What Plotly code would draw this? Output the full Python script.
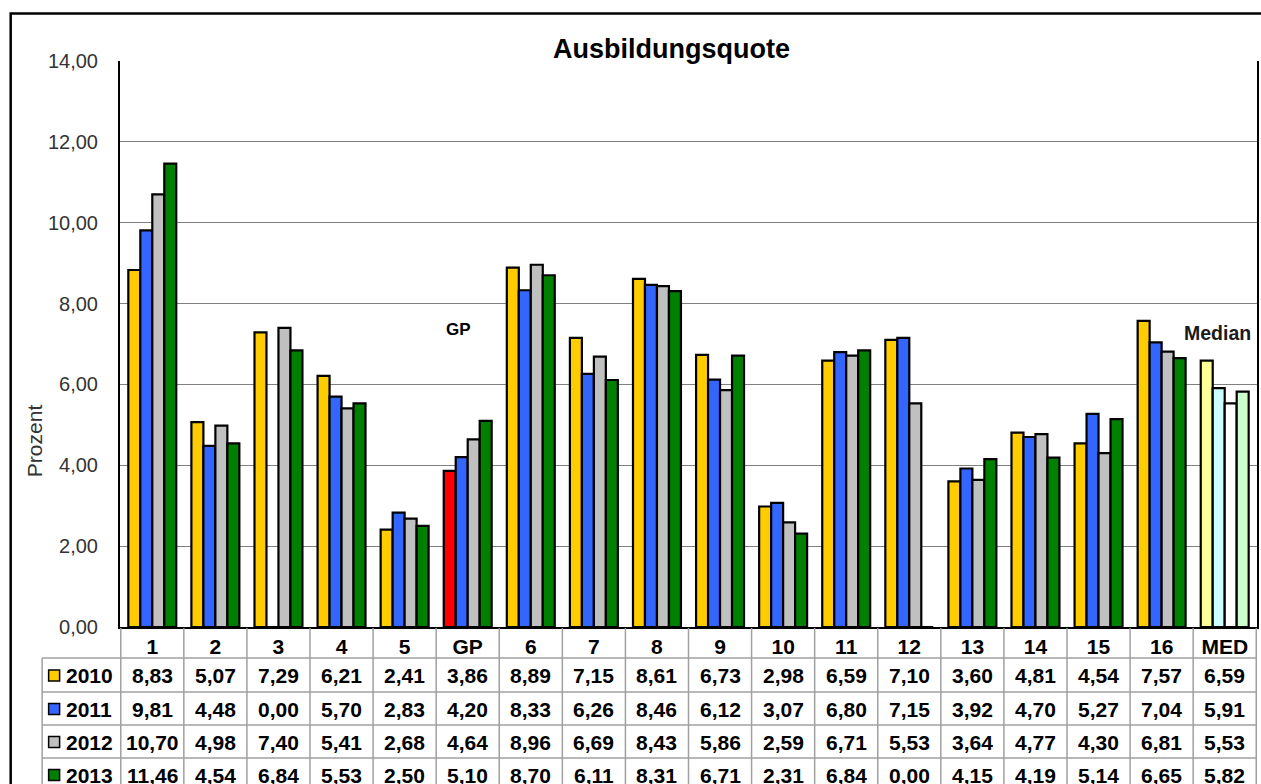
import plotly.graph_objects as go

# --- data -------------------------------------------------------------
categories = ['1', '2', '3', '4', '5', 'GP', '6', '7', '8', '9', '10',
              '11', '12', '13', '14', '15', '16', 'MED']
years = ['2010', '2011', '2012', '2013']

q2010 = [8.83, 5.07, 7.29, 6.21, 2.41, 3.86, 8.89, 7.15, 8.61, 6.73, 2.98,
         6.59, 7.10, 3.60, 4.81, 4.54, 7.57, 6.59]
q2011 = [9.81, 4.48, 0.00, 5.70, 2.83, 4.20, 8.33, 6.26, 8.46, 6.12, 3.07,
         6.80, 7.15, 3.92, 4.70, 5.27, 7.04, 5.91]
q2012 = [10.70, 4.98, 7.40, 5.41, 2.68, 4.64, 8.96, 6.69, 8.43, 5.86, 2.59,
         6.71, 5.53, 3.64, 4.77, 4.30, 6.81, 5.53]
q2013 = [11.46, 4.54, 6.84, 5.53, 2.50, 5.10, 8.70, 6.11, 8.31, 6.71, 2.31,
         6.84, 0.00, 4.15, 4.19, 5.14, 6.65, 5.82]
series = [q2010, q2011, q2012, q2013]

y_ticks = [0, 2, 4, 6, 8, 10, 12, 14]

# --- styling ------------------------------------------------------------
base_colors = ['#FFCC00', '#3366FF', '#C0C0C0', '#008000']
gp_colors = ['#FF0000', '#3366FF', '#C0C0C0', '#008000']
med_colors = ['#FFFF99', '#CCFFFF', '#FFFFFF', '#CCFFCC']

FONT = 'Liberation Sans, Arial, sans-serif'
W, H = 1261, 784
ML, MR, MT, MB = 120, 2, 61, 157
PLOT_W = W - ML - MR
PLOT_H = H - MT - MB


def px_x(x):
    """Pixel column -> paper x."""
    return (x - ML) / PLOT_W


def px_y(y):
    """Pixel row -> paper y."""
    return (H - MB - y) / PLOT_H


def fmt(v):
    return f'{v:.2f}'.replace('.', ',')


fig = go.Figure()

for year, vals, c_base, c_gp, c_med in zip(years, series, base_colors,
                                           gp_colors, med_colors):
    colors = []
    for cat in categories:
        if cat == 'GP':
            colors.append(c_gp)
        elif cat == 'MED':
            colors.append(c_med)
        else:
            colors.append(c_base)
    fig.add_trace(go.Bar(
        x=categories, y=vals, name=year,
        marker=dict(color=colors, line=dict(color='black', width=2.2)),
        showlegend=False,
    ))

# --- data table under the chart ----------------------------------------
row_edges = [628, 658, 692, 725, 758, 791]
grid_col = '#A0A0A0'
shapes = []

# horizontal table rules
for y in row_edges[1:5]:
    shapes.append(dict(type='line', xref='paper', yref='paper',
                       x0=px_x(42), x1=1, y0=px_y(y), y1=px_y(y),
                       line=dict(color=grid_col, width=1.5)))
# left edge of the legend column
shapes.append(dict(type='line', xref='paper', yref='paper',
                   x0=px_x(42), x1=px_x(42), y0=px_y(658), y1=px_y(800),
                   line=dict(color=grid_col, width=1.5)))
# column separators on the category scale
for i in range(len(categories) + 1):
    shapes.append(dict(type='line', xref='x', yref='paper',
                       x0=i - 0.5, x1=i - 0.5, y0=px_y(628), y1=px_y(800),
                       line=dict(color=grid_col, width=1.5)))

annotations = []
for r, (year, vals, col) in enumerate(zip(years, series, base_colors)):
    yc = (row_edges[r + 1] + row_edges[r + 2]) / 2 + 0.5
    # legend key
    shapes.append(dict(type='rect', xref='paper', yref='paper',
                       x0=px_x(48.5), x1=px_x(59.5),
                       y0=px_y(yc - 5.5), y1=px_y(yc + 5.5),
                       fillcolor=col, line=dict(color='black', width=1.5)))
    annotations.append(dict(xref='paper', yref='paper', x=px_x(64),
                            y=px_y(yc), xanchor='left', yanchor='middle',
                            text=f'<b>{year}</b>', showarrow=False,
                            font=dict(family=FONT, size=21, color='black')))
    # one cell per category, placed by category index on the x scale
    for i, v in enumerate(vals):
        annotations.append(dict(xref='x', yref='paper', x=i, y=px_y(yc),
                                xanchor='center', yanchor='middle',
                                text=f'<b>{fmt(v)}</b>', showarrow=False,
                                font=dict(family=FONT, size=21, color='black')))

# outer frame of the chart object
shapes.append(dict(type='rect', xref='paper', yref='paper',
                   x0=px_x(10.5), x1=px_x(1280), y0=px_y(13.5), y1=px_y(820),
                   line=dict(color='black', width=2.5), fillcolor='rgba(0,0,0,0)'))

# title, axis label and in-plot notes
annotations.append(dict(xref='paper', yref='paper', x=px_x(672.5), y=px_y(48.5),
                        xanchor='center', yanchor='middle',
                        text='<b>Ausbildungsquote</b>', showarrow=False,
                        font=dict(family=FONT, size=27, color='black')))
annotations.append(dict(xref='paper', yref='paper', x=px_x(34), y=px_y(441),
                        xanchor='center', yanchor='middle', textangle=-90,
                        text='Prozent', showarrow=False,
                        font=dict(family=FONT, size=21, color='#333333')))
annotations.append(dict(xref='x', yref='y', x=categories.index('GP'), y=7.35,
                        xshift=-9, xanchor='center', yanchor='middle',
                        text='<b>GP</b>', showarrow=False,
                        font=dict(family=FONT, size=17, color='black')))
annotations.append(dict(xref='x', yref='y', x=categories.index('MED'), y=7.28,
                        xshift=-7, xanchor='center', yanchor='middle',
                        text='<b>Median</b>', showarrow=False,
                        font=dict(family=FONT, size=19.5, color='#1a1a1a')))

fig.update_layout(
    width=W, height=H,
    margin=dict(l=ML, r=MR, t=MT, b=MB, pad=0),
    paper_bgcolor='white', plot_bgcolor='white',
    barmode='group', bargap=0.24, bargroupgap=0,
    separators=', ',
    font=dict(family=FONT),
    shapes=shapes, annotations=annotations,
    xaxis=dict(type='category', categoryorder='array', categoryarray=categories,
               showline=True, linecolor='black', linewidth=2,
               ticks='', showgrid=False,
               tickfont=dict(family=FONT, size=21, color='black', weight='bold')),
    yaxis=dict(range=[0, 14], tickvals=y_ticks, tickformat='.2f',
               showgrid=True, gridcolor='#808080', gridwidth=1,
               showline=True, linecolor='black', linewidth=2, mirror=True,
               zeroline=False, ticks='', ticklabelstandoff=16,
               tickfont=dict(family=FONT, size=20, color='#333333')),
)

fig.write_html('out.html')
